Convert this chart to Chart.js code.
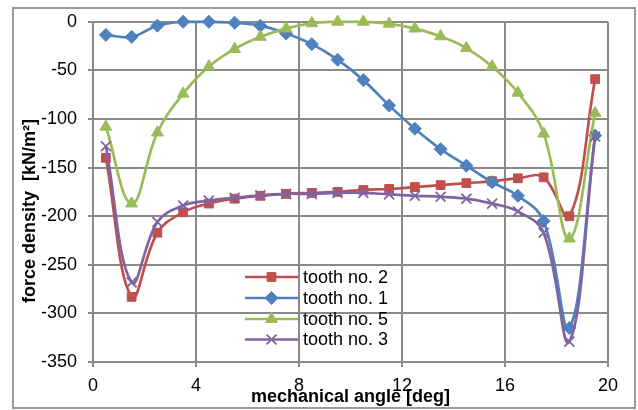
<!DOCTYPE html>
<html><head><meta charset="utf-8">
<script src="https://cdn.jsdelivr.net/npm/chart.js@4.4.1/dist/chart.umd.min.js"></script>
<style>html,body{margin:0;padding:0;background:#fff}#wrap{width:638px;height:410px;position:relative}</style>
</head><body><div id="wrap"><canvas id="c" width="638" height="410"></canvas></div>
<script>
// mechanical angle [deg]
const angles = [0.5,1.5,2.5,3.5,4.5,5.5,6.5,7.5,8.5,9.5,10.5,11.5,12.5,13.5,14.5,15.5,16.5,17.5,18.5,19.5];
// force density [kN/m²]
const tooth2 = [-140,-283,-217,-196,-187,-182,-179,-177,-176,-175,-173,-172,-170,-168,-166,-164,-161,-160,-200,-59];
const tooth1 = [-13.5,-15.5,-4,0,0,-1,-4,-12,-23,-39,-60,-86,-110,-131,-148,-165,-179,-205,-315,-117];
const tooth5 = [-108,-187,-114,-74,-46,-28,-15.5,-7,-1.5,0,0,-2,-7,-15,-27,-46,-73,-115,-223,-94];
const tooth3 = [-128,-268,-206,-189,-184,-181,-178.5,-177,-177,-176,-176,-177.5,-179,-180,-182,-187,-195,-217,-329,-118];
const seriesLabels = ['tooth no. 2','tooth no. 1','tooth no. 5','tooth no. 3'];
const xTicks = [0,4,8,12,16,20];
const yTicks = [0,-50,-100,-150,-200,-250,-300,-350];
const xTitle = 'mechanical angle [deg]';
const yTitle = 'force density  [kN/m\u00b2]';

const styles = [
  {color:'#C0504D', pointStyle:'rect', radius:6.2, pbw:1},
  {color:'#4F81BD', pointStyle:'rectRot', radius:6.5, pbw:1},
  {color:'#9BBB59', pointStyle:'triangle', radius:6.8, pbw:1},
  {color:'#8064A2', pointStyle:'crossRot', radius:7, pbw:1.8}
];
const seriesValues = [tooth2, tooth1, tooth5, tooth3];

const datasets = seriesValues.map((vals, i) => ({
  label: seriesLabels[i],
  data: angles.map((a, j) => ({x: a, y: vals[j]})),
  borderColor: styles[i].color,
  backgroundColor: styles[i].color,
  pointBackgroundColor: styles[i].color,
  pointBorderColor: styles[i].color,
  pointBorderWidth: styles[i].pbw,
  pointStyle: styles[i].pointStyle,
  pointRadius: styles[i].radius,
  pointHoverRadius: styles[i].radius,
  borderWidth: 2.7,
  tension: 0.4,
  fill: false,
  clip: false,
  order: 4 - i
}));

function drawMarker(ctx, style, r, x, y, color, bw) {
  ctx.save();
  ctx.fillStyle = color; ctx.strokeStyle = color; ctx.lineWidth = bw;
  ctx.beginPath();
  if (style === 'rect') {
    const s = r / Math.SQRT2;
    ctx.rect(x - s, y - s, 2 * s, 2 * s); ctx.fill(); ctx.stroke();
  } else if (style === 'rectRot') {
    ctx.moveTo(x, y - r); ctx.lineTo(x + r, y); ctx.lineTo(x, y + r); ctx.lineTo(x - r, y); ctx.closePath(); ctx.fill(); ctx.stroke();
  } else if (style === 'triangle') {
    for (let k = 0; k < 3; k++) {
      const ang = -Math.PI / 2 + k * 2 * Math.PI / 3;
      const px = x + r * Math.cos(ang), py = y + r * Math.sin(ang);
      if (k === 0) ctx.moveTo(px, py); else ctx.lineTo(px, py);
    }
    ctx.closePath(); ctx.fill(); ctx.stroke();
  } else if (style === 'crossRot') {
    const d = r * Math.SQRT1_2;
    ctx.moveTo(x - d, y - d); ctx.lineTo(x + d, y + d);
    ctx.moveTo(x - d, y + d); ctx.lineTo(x + d, y - d); ctx.stroke();
  }
  ctx.restore();
}

const framePlugin = {
  id: 'frame',
  beforeDraw(chart) {
    const ctx = chart.ctx;
    ctx.save();
    ctx.fillStyle = '#ffffff';
    ctx.fillRect(0, 0, chart.width, chart.height);
    ctx.strokeStyle = '#9a9a9a';
    ctx.lineWidth = 2;
    ctx.strokeRect(13, 8, 622, 400);
    ctx.restore();
  },
  afterDraw(chart) {
    const ctx = chart.ctx;
    ctx.save();
    ctx.fillStyle = '#000';
    ctx.font = 'bold 18px "Liberation Sans", Arial, sans-serif';
    ctx.textAlign = 'center';
    ctx.textBaseline = 'middle';
    const ca = chart.chartArea;
    ctx.fillText(xTitle, (ca.left + ca.right) / 2, 397);
    ctx.translate(30, 211);
    ctx.rotate(-Math.PI / 2);
    ctx.fillText(yTitle, 0, 0);
    ctx.restore();
    // legend
    ctx.save();
    ctx.font = '18px "Liberation Sans", Arial, sans-serif';
    ctx.textAlign = 'left';
    ctx.textBaseline = 'middle';
    const rowsY = [277, 298, 319, 339.5];
    seriesLabels.forEach((lab, i) => {
      const y = rowsY[i];
      const st = styles[i];
      ctx.strokeStyle = st.color; ctx.lineWidth = 2.7;
      ctx.beginPath(); ctx.moveTo(245, y); ctx.lineTo(298, y); ctx.stroke();
      drawMarker(ctx, st.pointStyle, st.radius, 271.5, y, st.color, st.pbw);
      ctx.fillStyle = '#000';
      ctx.fillText(lab, 303, y + 1);
    });
    ctx.restore();
  }
};

const gridColor = '#8a8a8a';
new Chart(document.getElementById('c'), {
  type: 'line',
  data: { datasets },
  options: {
    responsive: false,
    animation: false,
    devicePixelRatio: 1,
    layout: { padding: { top: 20, right: 30, left: 0, bottom: 0 } },
    plugins: { legend: { display: false }, tooltip: { enabled: false } },
    scales: {
      x: {
        type: 'linear', min: 0, max: 20,
        afterBuildTicks(scale) { scale.ticks = xTicks.map(v => ({value: v})); },
        afterFit(scale) { scale.height = 48; },
        ticks: { color: '#000', font: { size: 18, family: '"Liberation Sans", Arial, sans-serif' }, padding: 8, maxRotation: 0, autoSkip: false },
        grid: { color: gridColor, lineWidth: 2, tickLength: 5, drawTicks: true },
        border: { color: gridColor, width: 2 }
      },
      y: {
        type: 'linear', min: -350, max: 0,
        afterBuildTicks(scale) { scale.ticks = yTicks.map(v => ({value: v})); },
        afterFit(scale) { scale.width = 93; },
        ticks: { color: '#000', font: { size: 18, family: '"Liberation Sans", Arial, sans-serif' }, padding: 11, autoSkip: false },
        grid: { color: gridColor, lineWidth: 2, tickLength: 5, drawTicks: true },
        border: { color: gridColor, width: 2 }
      }
    }
  },
  plugins: [framePlugin]
});
</script></body></html>
